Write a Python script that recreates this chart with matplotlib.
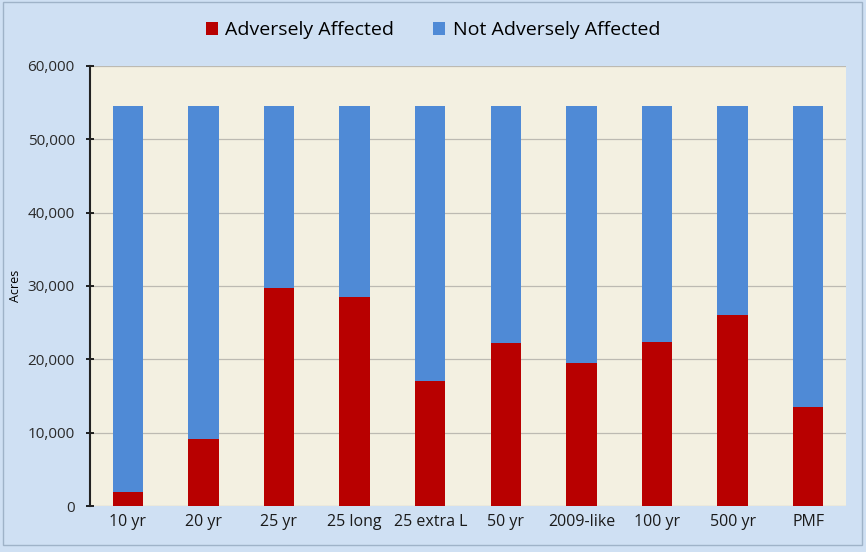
import numpy as np
import matplotlib
import matplotlib.pyplot as plt
from matplotlib.ticker import FuncFormatter
from matplotlib.patches import Rectangle

matplotlib.rc('font', family=['Open Sans', 'DejaVu Sans'])

# scenarios and acreage
scenarios = ['10 yr', '20 yr', '25 yr', '25 long', '25 extra L', '50 yr',
             '2009-like', '100 yr', '500 yr', 'PMF']
total = 54500
adverse = [1900, 9150, 29700, 28500, 17050, 22250, 19500, 22400, 26050, 13500]
not_adverse = [total - a for a in adverse]

red = '#b80000'
blue = '#4f8ad6'

fig = plt.figure(figsize=(8.66, 5.52), dpi=100, facecolor='#cfe0f3')
ax = fig.add_axes([90 / 866, 1 - 506 / 552, 756 / 866, 440 / 552])
ax.set_facecolor('#f3f0e1')

x = np.arange(len(scenarios))
ax.bar(x, adverse, width=0.4, color=red, label='Adversely Affected', zorder=3)
ax.bar(x, not_adverse, width=0.4, bottom=adverse, color=blue,
       label='Not Adversely Affected', zorder=3)

ax.set_xlim(-0.5, len(scenarios) - 0.5)
ax.set_ylim(0, 60000)
ax.set_yticks(range(0, 60001, 10000))
ax.yaxis.set_major_formatter(FuncFormatter(lambda v, p: f'{int(v):,}'))
ax.grid(axis='y', color='#bcbab2', linewidth=0.9, zorder=1)
ax.set_xticks(x)
ax.set_xticklabels(scenarios, fontsize=11.5, color='#1a1a1a')
ax.tick_params(axis='x', length=0, pad=6)
ax.tick_params(axis='y', direction='inout', length=6, width=1.2,
               labelsize=11, labelcolor='#2a2a2a', pad=8)
for side in ['top', 'right', 'bottom']:
    ax.spines[side].set_visible(False)
ax.spines['left'].set_linewidth(1.5)
ax.spines['left'].set_color('#222222')
ax.set_ylabel('Acres', fontsize=9, labelpad=4)

fig.legend(loc='upper center', bbox_to_anchor=(0.5, 0.993), ncol=2, frameon=False,
           fontsize=14, handlelength=0.6, handleheight=0.6, columnspacing=2.0,
           handletextpad=0.4)

# thin frame around the chart area
fig.patches.append(Rectangle((0.004, 0.012), 0.991, 0.984, transform=fig.transFigure,
                             fill=False, edgecolor='#9fb3c8', linewidth=1.0))

plt.savefig('out.png', dpi=100, facecolor=fig.get_facecolor())
plt.close()
